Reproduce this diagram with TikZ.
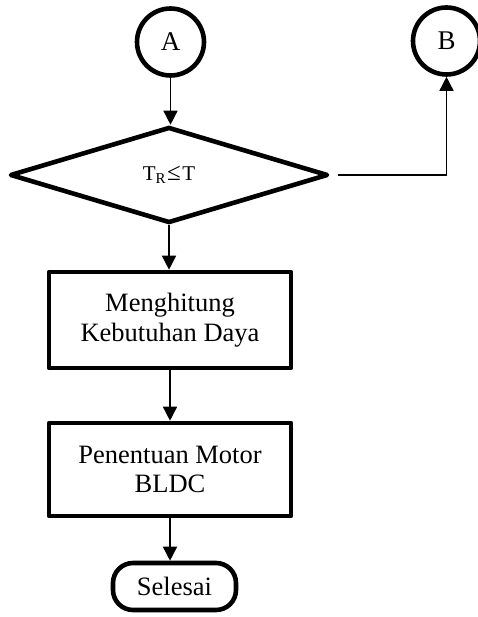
\documentclass[tikz,border=0pt]{standalone}
\usepackage{fontspec}
\setmainfont{Liberation Serif}
\usetikzlibrary{shapes.geometric,arrows.meta}
\begin{document}
\begin{tikzpicture}[x=1pt,y=-1pt,
  outline/.style={draw=black,line width=4.6pt,line join=round,inner sep=0pt},
  connector/.style={draw=black,line width=1.5pt,-{Triangle[width=14pt,length=14pt]}},
  connlabel/.style={outline,circle,minimum size=67pt,font=\fontsize{27}{30}\selectfont},
  process/.style={outline,rectangle,minimum width=242pt,align=center,
    font=\fontsize{26.5}{29.5}\selectfont},
  decision/.style={outline,diamond,minimum width=318pt,minimum height=96pt,
    font=\fontsize{21}{24}\selectfont},
  terminal/.style={outline,rectangle,rounded corners=20pt,minimum width=123pt,
    minimum height=47pt,font=\fontsize{26.5}{29.5}\selectfont}]
\useasboundingbox (0,0) rectangle (477,617);

% off-page connectors
\node[connlabel] (A) at (170.5,42) {A};
\node[connlabel] (B) at (446.5,41) {B};

% condition
\node[decision] (dec) at (169,175)
  {T\raisebox{-2.5pt}{\fontsize{15}{15}\selectfont R}\hspace{1.5pt}%
   {\fontsize{25}{25}\selectfont ≤}\hspace{1.5pt}T};

% process steps
\node[process,minimum height=96pt] (daya) at (170,320)
  {Menghitung\\Kebutuhan Daya};
\node[process,minimum height=93pt] (motor) at (170,469.5)
  {Penentuan Motor\\BLDC};

% end
\node[terminal] (end) at (174.5,586.5) {Selesai};

% flow
\draw[connector] (A.south) -- (A.south |- dec.north);
\draw[connector] (dec.south) -- (dec.south |- daya.north);
\draw[connector] (daya.south) -- (motor.north);
\draw[connector] (motor.south) -- (motor.south |- end.north);
\coordinate (yes) at ([xshift=8pt]dec.east);
\draw[connector] (yes) -| (B.south);
\end{tikzpicture}
\end{document}
